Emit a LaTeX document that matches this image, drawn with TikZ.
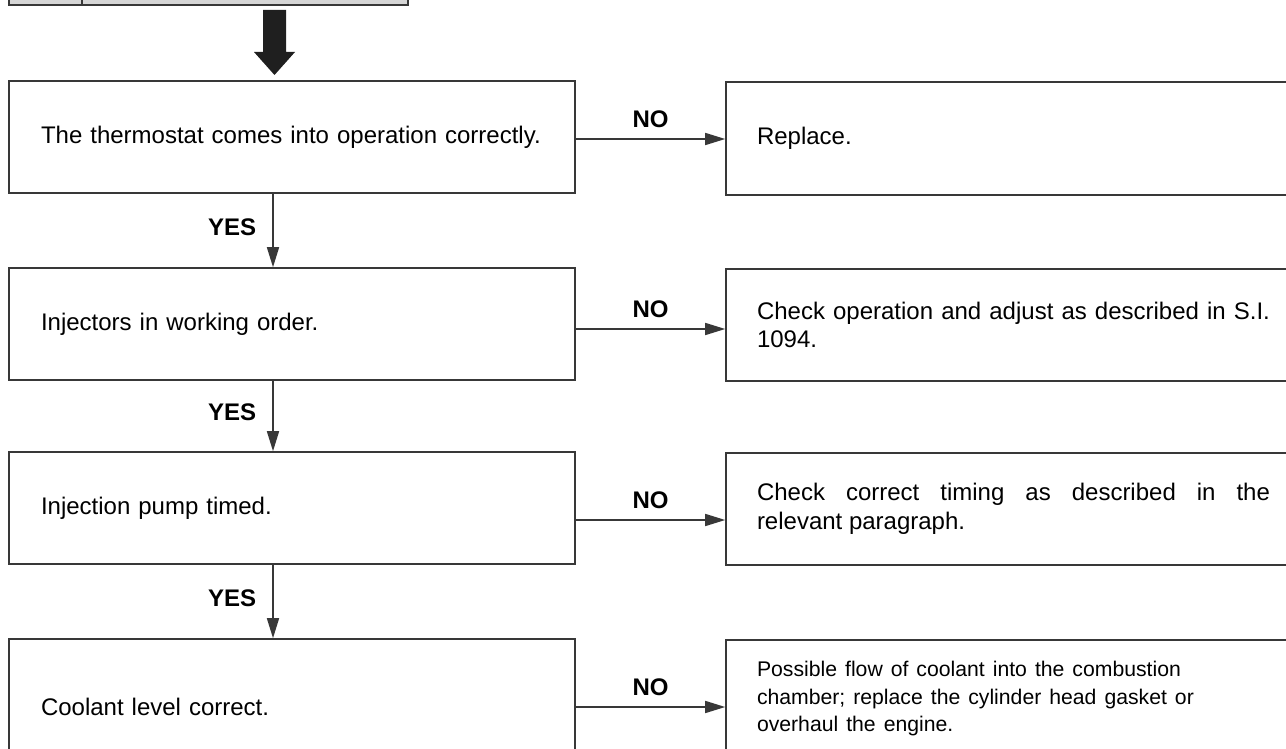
\documentclass[tikz,border=0pt]{standalone}
\usepackage{fontspec}
\setmainfont{Liberation Sans}
\usetikzlibrary{arrows.meta,positioning,calc}

\begin{document}
\begin{tikzpicture}[x=0.5pt,y=-0.5pt,
  line/.style={draw=black!78,line width=0.8pt},
  check/.style={line,rectangle,minimum width=283pt,text width=251pt,inner xsep=16pt,inner ysep=0pt,align=left,font=\fontsize{12}{14.4}\selectfont},
  action/.style={line,rectangle,minimum width=287.5pt,text width=256.5pt,inner xsep=15.5pt,inner ysep=0pt,align=justify,font=\fontsize{12}{14.4}\selectfont},
  flow/.style={line,-{Triangle[length=10pt,width=6pt]}},
  answer/.style={font=\bfseries\fontsize{12}{14.4}\selectfont,inner sep=0pt}]

\clip (0,0) rectangle (1286,749);

% Previous step (cut off at the top)
\draw[line,fill=black!16] (9,-20) rectangle (408,5);
\draw[line] (82,-20) -- (82,5);

% Block arrow into the chart
\fill[black!88] (263,10) -- (286,10) -- (286,52) -- (295,52) -- (274.5,75) -- (254,52) -- (263,52) -- cycle;

% Checks
\node[check,minimum height=56pt] (q1) at (292,137) {The thermostat comes into operation correctly.};
\node[check,minimum height=56pt] (q2) at (292,324) {Injectors in working order.};
\node[check,minimum height=56pt] (q3) at (292,508) {Injection pump timed.};
\node[check,minimum height=68pt] (q4) at (292,707) {Coolant level correct.};

% Actions
\node[action,minimum height=56.5pt] (r1) at (1013.5,138.5) {Replace.};
\node[action,minimum height=56pt] (r2) at (1013.5,325) {Check operation and adjust as described in S.I.\linebreak 1094.};
\node[action,minimum height=56pt] (r3) at (1013.5,509) {Check correct timing as described in the\linebreak relevant paragraph.};
\node[action,align=left,minimum height=59pt] (r4) at (1013.5,699) {\parbox{221pt}{\fontsize{10.6}{13.75}\selectfont Possible flow of coolant into the combustion\linebreak chamber; replace the cylinder head gasket or\linebreak overhaul the engine.}};

% YES connectors
\coordinate (spine) at (273,0);
\draw[flow] (spine |- q1.south) -- (spine |- q2.north) node[answer,pos=0.45,left=8pt] {YES};
\draw[flow] (spine |- q2.south) -- (spine |- q3.north) node[answer,pos=0.45,left=8pt] {YES};
\draw[flow] (spine |- q3.south) -- (spine |- q4.north) node[answer,pos=0.45,left=8pt] {YES};

% NO connectors
\draw[flow] ([yshift=-1pt]q1.east) -- ([yshift=-1pt]q1.east -| r1.west) node[answer,midway,above=5pt] {NO};
\draw[flow] ([yshift=-2.5pt]q2.east) -- ([yshift=-2.5pt]q2.east -| r2.west) node[answer,midway,above=5pt] {NO};
\draw[flow] ([yshift=-6pt]q3.east) -- ([yshift=-6pt]q3.east -| r3.west) node[answer,midway,above=5pt] {NO};
\draw[flow] (q4.east) -- (q4.east -| r4.west) node[answer,midway,above=5pt] {NO};
\end{tikzpicture}
\end{document}
